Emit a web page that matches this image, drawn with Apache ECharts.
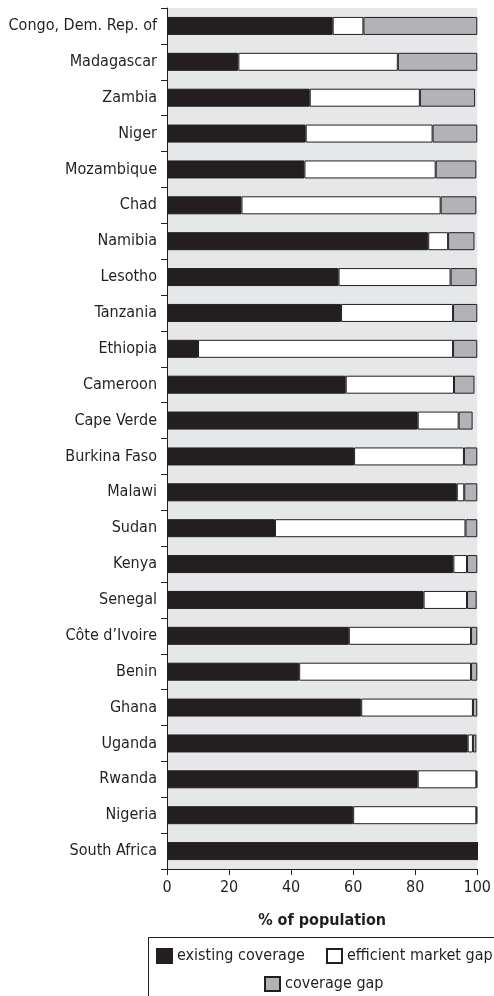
<!DOCTYPE html>
<html>
<head>
<meta charset="utf-8">
<script src="https://cdn.jsdelivr.net/npm/echarts@6/dist/echarts.min.js"></script>
<style>html,body{margin:0;padding:0;background:#fff;overflow:hidden}#c{width:494px;height:996px}</style>
</head>
<body>
<div id="c"></div>
<script>
const categories = ["Congo, Dem. Rep. of","Madagascar","Zambia","Niger","Mozambique","Chad","Namibia","Lesotho","Tanzania","Ethiopia","Cameroon","Cape Verde","Burkina Faso","Malawi","Sudan","Kenya","Senegal","Côte d’Ivoire","Benin","Ghana","Uganda","Rwanda","Nigeria","South Africa"];
const existingCoverage = [53.4,23.0,46.0,44.7,44.3,24.0,84.2,55.3,56.1,10.0,57.6,80.8,60.3,93.4,34.8,92.3,82.7,58.6,42.6,62.6,96.9,80.8,60.0,100];
const efficientMarketGap = [9.9,51.4,35.5,40.9,42.3,64.2,6.4,36.1,36.1,82.2,34.9,13.2,35.4,2.4,61.4,4.4,14.0,39.4,55.4,36.0,1.7,18.9,39.7,0];
const coverageGap = [36.7,25.6,17.8,14.4,13.1,11.5,8.5,8.4,7.8,7.8,6.6,4.5,4.3,4.2,3.8,3.3,3.1,2.0,2.0,1.4,1.1,0.3,0.3,0];
const xTicks = [0,20,40,60,80,100];

const FONT = "'Liberation Sans Narrow', 'DejaVu Sans Condensed', sans-serif";
const INK = '#231f20';
const chart = echarts.init(document.getElementById('c'));
const mk = (name, data, color) => ({
  name, type: 'bar', stack: 'total', data, barWidth: 18,
  itemStyle: { color, borderColor: INK, borderWidth: 1 },
  emphasis: { disabled: true }, silent: true
});
const lg = (name, left, top) => ({
  data: [name], left, top, padding: 0, icon: 'rect', itemWidth: 15, itemHeight: 14, itemGap: 8,
  textStyle: { fontSize: 16, color: INK, fontFamily: FONT }, selectedMode: false
});
chart.setOption({
  animation: false,
  textStyle: { fontFamily: FONT, color: INK },
  grid: { left: 167, right: 14, top: 8, bottom: 127, show: true, backgroundColor: '#e6e7e8', borderWidth: 0 },
  xAxis: {
    type: 'value', min: 0, max: 100, interval: 20,
    splitLine: { show: false },
    axisLine: { show: true, lineStyle: { color: INK, width: 1 } },
    axisTick: { show: true, length: 6, lineStyle: { color: INK } },
    axisLabel: { fontSize: 16, color: INK, fontFamily: FONT, margin: 11,
      formatter: v => xTicks.includes(v) ? String(v) : '' },
    name: '% of population', nameLocation: 'middle', nameGap: 44,
    nameTextStyle: { fontSize: 16, fontWeight: 'bold', color: INK, fontFamily: FONT }
  },
  yAxis: {
    type: 'category', data: categories, inverse: true,
    axisLine: { show: true, lineStyle: { color: INK, width: 1 } },
    axisTick: { show: true, length: 6, lineStyle: { color: INK } },
    axisLabel: { fontSize: 16, color: INK, fontFamily: FONT, margin: 10 }
  },
  graphic: [{ type: 'rect', left: 148, top: 937, shape: { width: 360, height: 80 },
    style: { fill: '#fff', stroke: INK, lineWidth: 1 }, z: -1 }],
  legend: [
    lg('existing coverage', 156, 948),
    lg('efficient market gap', 326, 948),
    lg('coverage gap', 264, 976)
  ],
  series: [
    mk('existing coverage', existingCoverage, INK),
    mk('efficient market gap', efficientMarketGap, '#ffffff'),
    mk('coverage gap', coverageGap, '#b1b3b6')
  ]
});
</script>
</body>
</html>
